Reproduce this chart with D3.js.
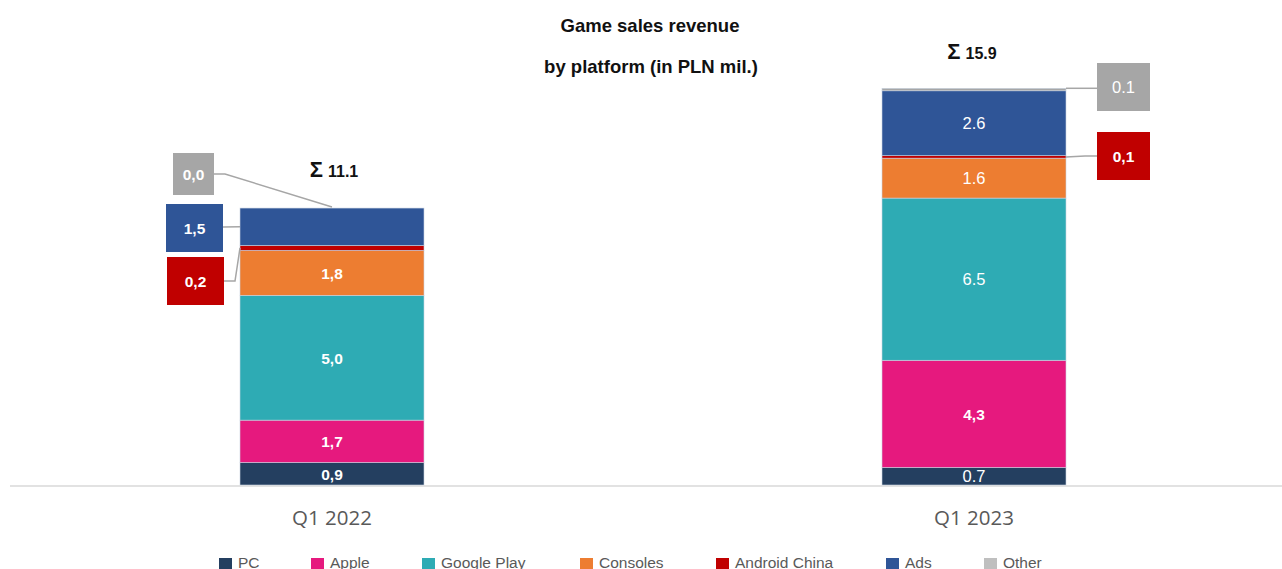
<!DOCTYPE html>
<html>
<head>
<meta charset="utf-8">
<script src="https://cdn.jsdelivr.net/npm/d3@7"></script>
<style>
  html, body { margin: 0; padding: 0; background: #fff; }
  svg { display: block; }
</style>
</head>
<body>
<div id="chart"></div>
<script>
// data
const categories = ['Q1 2022', 'Q1 2023']
const platforms = ['PC', 'Apple', 'Google Play', 'Consoles', 'Android China', 'Ads', 'Other']
const pc = [0.9, 0.7]
const apple = [1.7, 4.3]
const googlePlay = [5.0, 6.5]
const consoles = [1.8, 1.6]
const androidChina = [0.2, 0.1]
const ads = [1.5, 2.6]
const other = [0.0, 0.1]
const totals = [11.1, 15.9]
const labels2022 = ['0,9', '1,7', '5,0', '1,8', '0,2', '1,5', '0,0']
const labels2023 = ['0.7', '4,3', '6.5', '1.6', '0,1', '2.6', '0.1']

const seriesValues = [pc, apple, googlePlay, consoles, androidChina, ads, other]
const seriesLabels = [labels2022, labels2023]

const colors = ['#243f60', '#e6197e', '#2eabb4', '#ed7d31', '#c00000', '#2f5597', '#a6a6a6']
const legendColors = ['#243f60', '#e6197e', '#2eabb4', '#ed7d31', '#c00000', '#2f5597', '#bfbfbf']
// which labels are bold, per bar
const boldLabels = [
  [true, true, true, true, true, true, true],
  [false, true, false, false, true, false, false]
]

const width = 1282
const height = 569
const baseY = 485
const barW = 184

const svg = d3.select('#chart').append('svg')
  .attr('width', width)
  .attr('height', height)
  .style('font-family', 'Arial, "Liberation Sans", sans-serif')

const x = d3.scalePoint().domain(categories).range([332, 974])
const y = d3.scaleLinear().domain([0, 16]).range([baseY, baseY - 16 * 24.95])

// stacked segments
const rows = categories.map((cat, i) => {
  const r = { cat }
  platforms.forEach((p, j) => { r[p] = seriesValues[j][i] })
  return r
})
const stacked = d3.stack().keys(platforms)(rows)

// title
svg.append('text').attr('x', 650).attr('y', 32).attr('text-anchor', 'middle')
  .attr('font-size', 18.5).attr('font-weight', 'bold').attr('fill', '#111').text('Game sales revenue')
svg.append('text').attr('x', 651).attr('y', 73).attr('text-anchor', 'middle')
  .attr('font-size', 18.5).attr('font-weight', 'bold').attr('fill', '#111').text('by platform (in PLN mil.)')

// axis line
svg.append('line').attr('x1', 10).attr('x2', width).attr('y1', baseY + 1).attr('y2', baseY + 1)
  .attr('stroke', '#d9d9d9').attr('stroke-width', 1.5)

const bars = svg.append('g')
stacked.forEach((layer, j) => {
  layer.forEach((d, i) => {
    const cx = x(categories[i])
    bars.append('rect')
      .attr('x', cx - barW / 2)
      .attr('y', y(d[1]))
      .attr('width', barW)
      .attr('height', Math.max(0, y(d[0]) - y(d[1])))
      .attr('fill', colors[j])
      .attr('stroke', '#c9d3e0')
      .attr('stroke-width', 0.6)
  })
})

// in-bar labels (segments large enough)
stacked.forEach((layer, j) => {
  layer.forEach((d, i) => {
    if (d[1] - d[0] < 0.6) return
    if (i === 0 && platforms[j] === 'Ads') return
    const cx = x(categories[i])
    const bold = boldLabels[i][j]
    svg.append('text')
      .attr('x', cx)
      .attr('y', (y(d[0]) + y(d[1])) / 2 + 6)
      .attr('text-anchor', 'middle')
      .attr('font-size', bold ? 15.5 : 16.5)
      .attr('font-weight', bold ? 'bold' : 'normal')
      .attr('fill', '#fff')
      .text(seriesLabels[i][j])
  })
})

// callouts
const seg = (name, i) => stacked[platforms.indexOf(name)][i]
const callouts = [
  { name: 'Other', i: 0, box: [173, 153, 41, 42], path: (s) => [[214, 174], [225, 174], [x(categories[0]), y(s[1]) - 1]] },
  { name: 'Ads', i: 0, box: [166, 204, 57, 48], path: (s) => [[223, 227], [240, (y(s[0]) + y(s[1])) / 2]] },
  { name: 'Android China', i: 0, box: [167, 257, 57, 48], path: (s) => [[224, 281], [235, 281], [240, (y(s[0]) + y(s[1])) / 2]] },
  { name: 'Other', i: 1, box: [1097, 63, 53, 48], path: (s) => [[x(categories[1]) + barW / 2, y(s[1])], [1097, y(s[1])]] },
  { name: 'Android China', i: 1, box: [1097, 132, 53, 48], path: (s) => [[x(categories[1]) + barW / 2, (y(s[0]) + y(s[1])) / 2], [1085, 156], [1097, 156]] }
]
callouts.forEach((c) => {
  const j = platforms.indexOf(c.name)
  const s = seg(c.name, c.i)
  svg.append('path')
    .attr('d', d3.line()(c.path(s)))
    .attr('fill', 'none')
    .attr('stroke', '#a6a6a6')
    .attr('stroke-width', 1.5)
  const [bx, by, bw, bh] = c.box
  svg.append('rect').attr('x', bx).attr('y', by).attr('width', bw).attr('height', bh)
    .attr('fill', colors[j])
  const bold = boldLabels[c.i][j]
  svg.append('text')
    .attr('x', bx + bw / 2).attr('y', by + bh / 2 + 6)
    .attr('text-anchor', 'middle')
    .attr('font-size', bold ? 15.5 : 16.5)
    .attr('font-weight', bold ? 'bold' : 'normal')
    .attr('fill', '#fff')
    .text(seriesLabels[c.i][j])
})

// totals
const totalY = [177, 59]
const totalDx = [2, -2]
totals.forEach((t, i) => {
  const txt = svg.append('text')
    .attr('x', x(categories[i]) + totalDx[i])
    .attr('y', totalY[i])
    .attr('text-anchor', 'middle')
    .attr('font-weight', 'bold')
    .attr('fill', '#111')
  txt.append('tspan').attr('font-size', 22).text('Σ')
  txt.append('tspan').attr('font-size', 16).attr('dx', 5).text(t.toFixed(1))
})

// category labels
categories.forEach((c) => {
  svg.append('text')
    .attr('x', x(c))
    .attr('y', 525)
    .attr('text-anchor', 'middle')
    .attr('font-family', '"Open Sans", sans-serif')
    .attr('font-size', 20.5)
    .attr('fill', '#595959')
    .text(c)
})

// legend
const legendX = [219, 311, 422, 580, 716, 886, 984]
platforms.forEach((p, j) => {
  svg.append('rect').attr('x', legendX[j]).attr('y', 558).attr('width', 13).attr('height', 11)
    .attr('fill', legendColors[j])
  svg.append('text').attr('x', legendX[j] + 19).attr('y', 568)
    .attr('font-size', 15.5).attr('fill', '#595959').text(p)
})
</script>
</body>
</html>
